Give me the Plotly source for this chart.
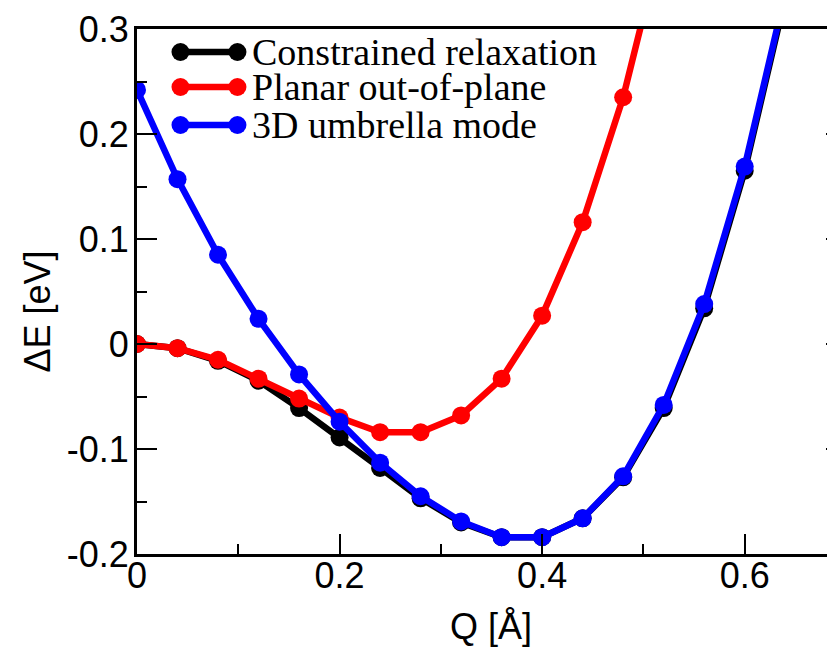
import plotly.graph_objects as go

# ---------------- data ----------------
q_black = [0.00, 0.04, 0.08, 0.12, 0.16, 0.20, 0.24, 0.28, 0.32, 0.36, 0.40, 0.44, 0.48, 0.52, 0.56, 0.60, 0.64]
e_black = [0.000, -0.004, -0.016, -0.035, -0.061, -0.089, -0.118, -0.147, -0.170, -0.184, -0.184, -0.166, -0.127, -0.061, 0.034, 0.165, 0.330]

q_red = [0.00, 0.04, 0.08, 0.12, 0.16, 0.20, 0.24, 0.28, 0.32, 0.36, 0.40, 0.44, 0.48, 0.52]
e_red = [0.000, -0.004, -0.015, -0.033, -0.052, -0.070, -0.084, -0.084, -0.068, -0.033, 0.027, 0.116, 0.235, 0.390]

q_blue = [0.00, 0.04, 0.08, 0.12, 0.16, 0.20, 0.24, 0.28, 0.32, 0.36, 0.40, 0.44, 0.48, 0.52, 0.56, 0.60, 0.64]
e_blue = [0.242, 0.157, 0.085, 0.024, -0.029, -0.074, -0.113, -0.145, -0.169, -0.184, -0.184, -0.166, -0.126, -0.058, 0.038, 0.169, 0.334]

series_names = ["Constrained relaxation", "Planar out-of-plane", "3D umbrella mode"]
series_colors = ["#000000", "#ff0000", "#0000ff"]

x_tickvals = [0, 0.2, 0.4, 0.6]
x_ticktext = ["0", "0.2", "0.4", "0.6"]
y_tickvals = [-0.2, -0.1, 0, 0.1, 0.2, 0.3]
y_ticktext = ["-0.2", "-0.1", "0", "0.1", "0.2", "0.3"]

x_title = "Q [Å]"
y_title = "ΔE [eV]"

# ---------------- layout constants (page pixels; page body has an 8px margin) ----------------
OFF = 8
W, H = 838, 648
P_LEFT, P_TOP, P_RIGHT, P_BOTTOM = 136.5, 29, 846, 554      # plot frame in page pixels
L, T = P_LEFT - OFF, P_TOP - OFF
R = W - (P_RIGHT - OFF)
B = H - (P_BOTTOM - OFF)
X_RANGE = [0, 0.7]
Y_RANGE = [-0.2, 0.3]
SANS = "Liberation Sans, Arial, Helvetica, sans-serif"
SERIF = "Liberation Serif, Times New Roman, serif"
LINE_W = 6.5
MARKER_SIZE = 18

PW = W - L - R
PH = H - T - B


def px(xp):  # page pixel -> paper x
    return (xp - OFF - L) / PW


def py(yp):  # page pixel -> paper y
    return 1 - (yp - OFF - T) / PH


fig = go.Figure()

for q, e, name, col in zip([q_black, q_red, q_blue], [e_black, e_red, e_blue], series_names, series_colors):
    fig.add_trace(go.Scatter(
        x=q, y=e, mode="lines+markers", name=name,
        line=dict(color=col, width=LINE_W),
        marker=dict(color=col, size=MARKER_SIZE, symbol="circle"),
        showlegend=False, cliponaxis=True,
    ))

# ---------------- custom legend (two markers + line, like the original) ----------------
leg_x0, leg_x1 = 180, 237          # page pixel positions of the sample markers
leg_rows = [52, 87, 125]           # page pixel row centres
leg_text_x = 250
for name, col, yy in zip(series_names, series_colors, leg_rows):
    fig.add_trace(go.Scatter(
        x=[px(leg_x0), px(leg_x1)], y=[py(yy), py(yy)], xaxis="x3", yaxis="y3",
        mode="lines+markers", line=dict(color=col, width=LINE_W),
        marker=dict(color=col, size=MARKER_SIZE), showlegend=False, hoverinfo="skip",
    ))
    fig.add_annotation(
        x=px(leg_text_x), y=py(yy), xref="paper", yref="paper", text=name, showarrow=False,
        xanchor="left", yanchor="middle", font=dict(family=SERIF, size=38, color="black"),
    )

axis_font = dict(family=SANS, size=36, color="black")

# axis titles as annotations
fig.add_annotation(x=px(491), y=py(626), xref="paper", yref="paper", text=x_title, showarrow=False,
                   xanchor="center", yanchor="middle", font=axis_font)
fig.add_annotation(x=px(36), y=py(312), xref="paper", yref="paper", text=y_title, showarrow=False,
                   xanchor="center", yanchor="middle", textangle=-90, font=axis_font)

fig.update_layout(
    width=W, height=H,
    margin=dict(l=L, r=R, t=T, b=B, pad=0),
    paper_bgcolor="white", plot_bgcolor="white",
    showlegend=False,
    xaxis=dict(
        range=X_RANGE, tickvals=x_tickvals, ticktext=x_ticktext,
        ticks="inside", ticklen=20, tickwidth=2, tickcolor="black",
        minor=dict(ticks="inside", ticklen=10, tickwidth=2, tickcolor="black", dtick=0.1, tick0=0),
        showline=True, linecolor="black", linewidth=3, mirror=True,
        showgrid=False, zeroline=False, tickfont=axis_font,
        ticklabelstandoff=-12, automargin=False,
    ),
    yaxis=dict(
        range=Y_RANGE, tickvals=y_tickvals, ticktext=y_ticktext,
        ticks="inside", ticklen=20, tickwidth=2, tickcolor="black",
        minor=dict(ticks="inside", ticklen=10, tickwidth=2, tickcolor="black", dtick=0.05, tick0=0),
        showline=True, linecolor="black", linewidth=3, mirror="ticks",
        showgrid=False, zeroline=False, tickfont=axis_font,
        ticklabelstandoff=-2, automargin=False,
    ),
    xaxis3=dict(range=[0, 1], domain=[0, 1], visible=False, fixedrange=True, overlaying="x"),
    yaxis3=dict(range=[0, 1], domain=[0, 1], visible=False, fixedrange=True, overlaying="y"),
)

fig.write_html("out.html")
